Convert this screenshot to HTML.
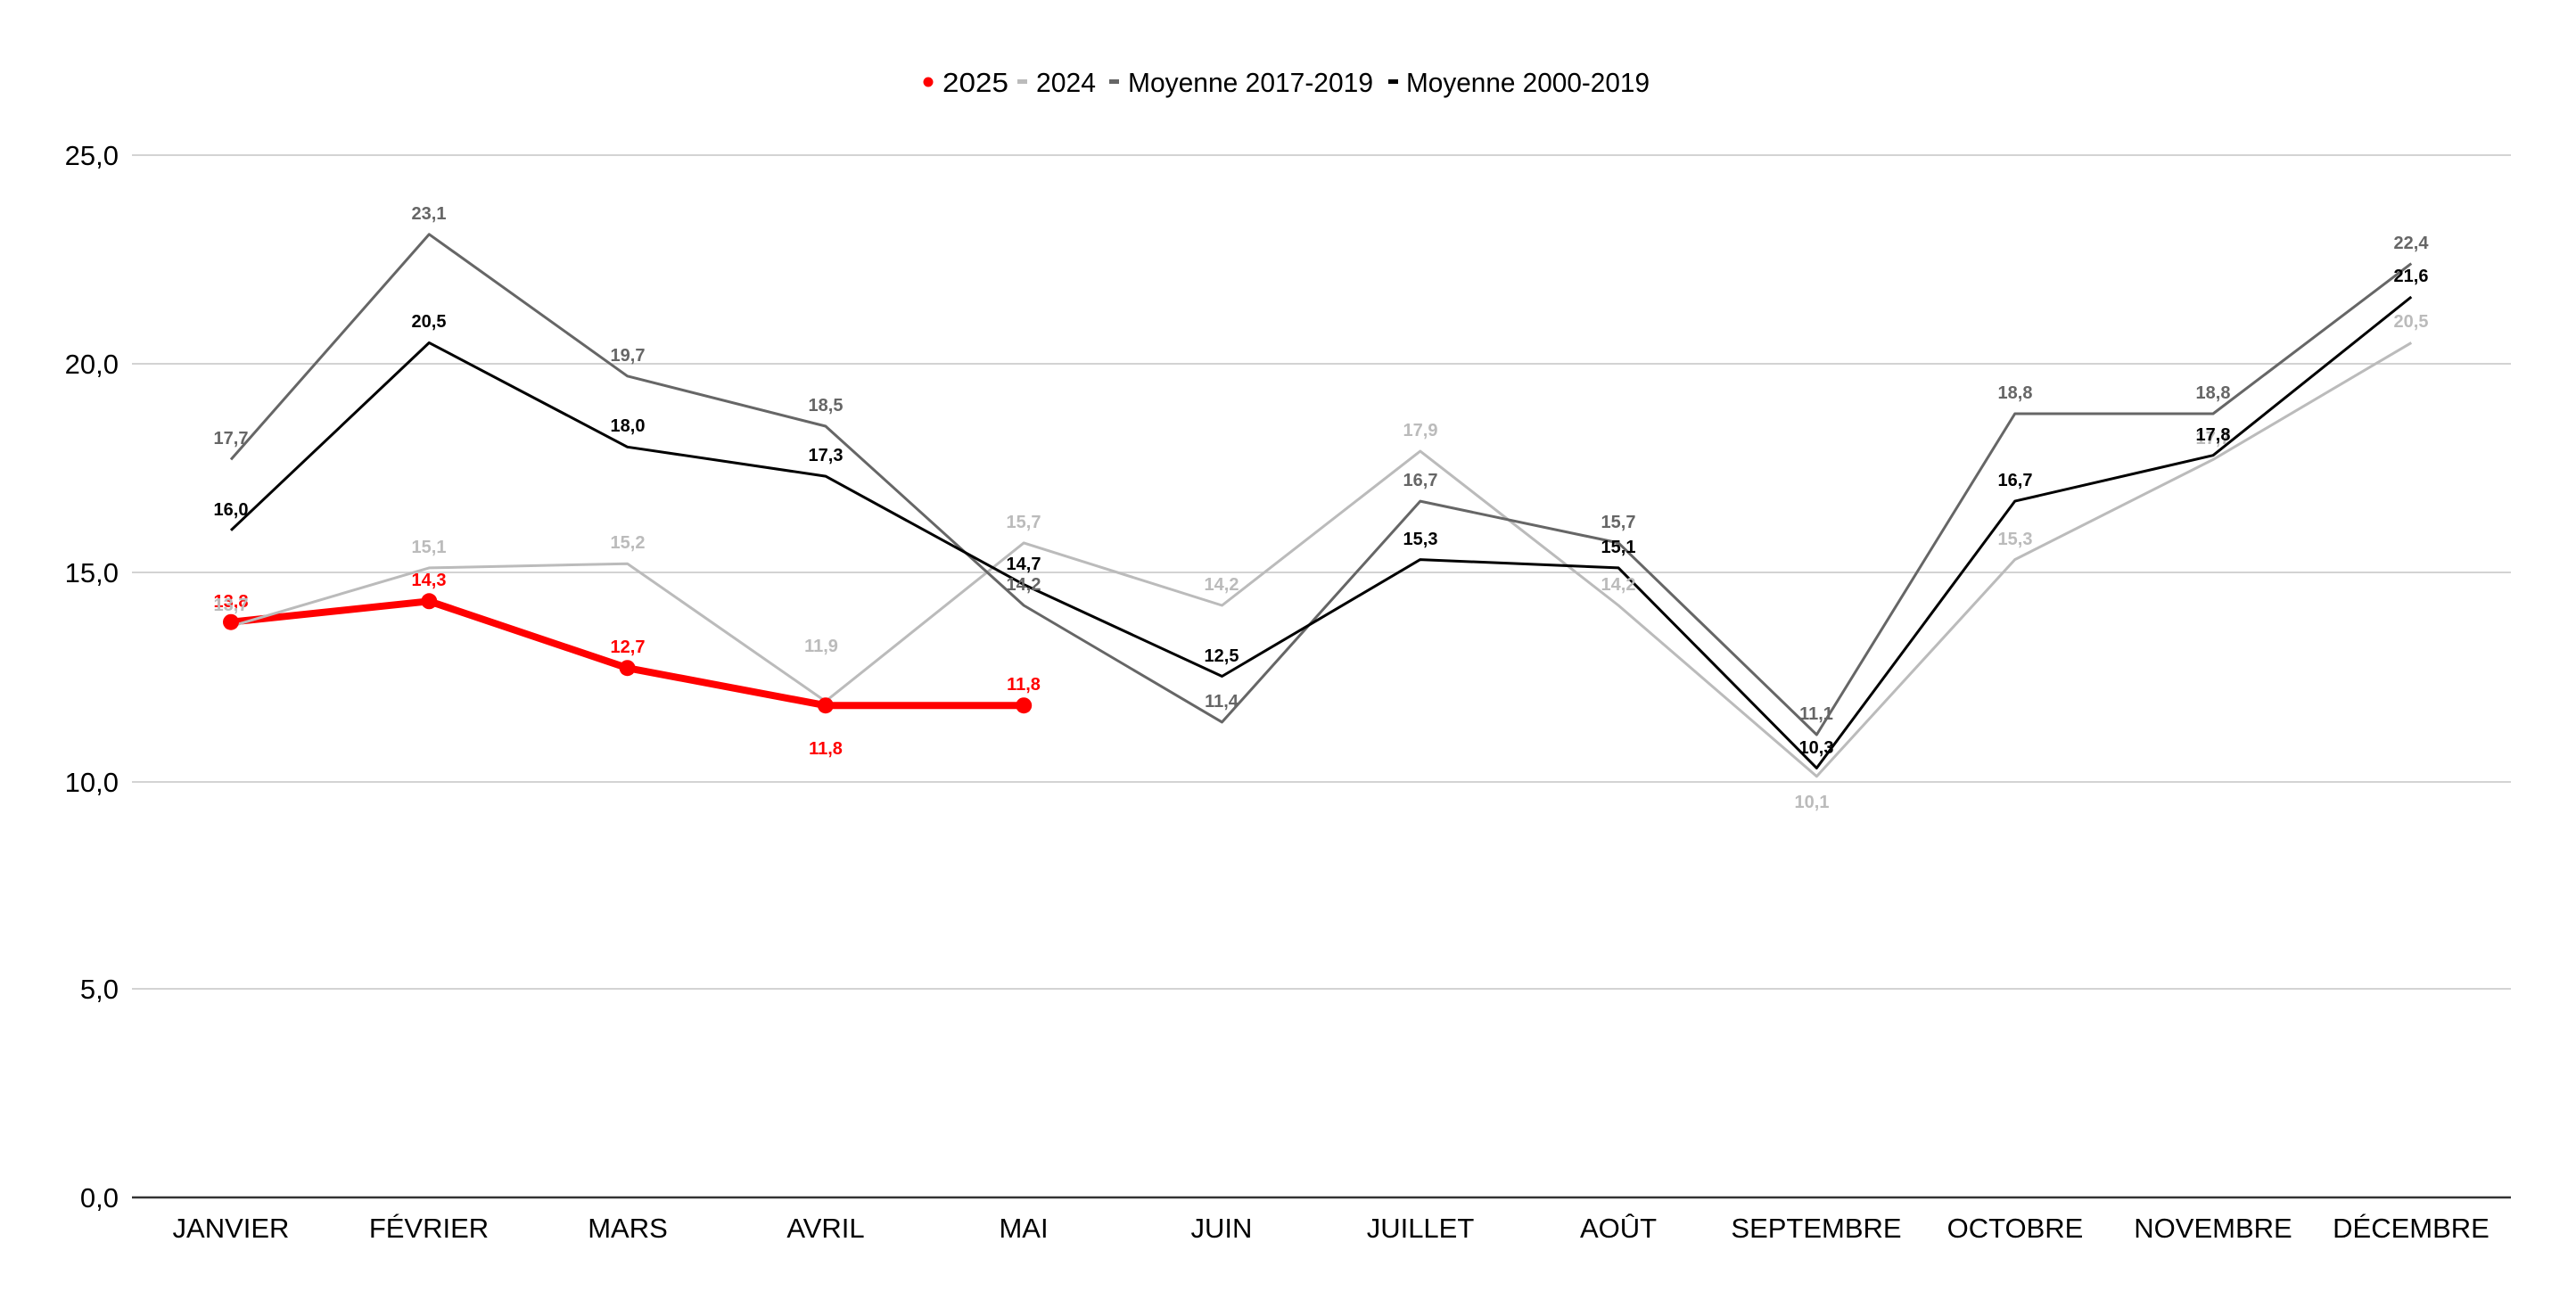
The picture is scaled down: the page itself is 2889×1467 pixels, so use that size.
<!DOCTYPE html>
<html><head><meta charset="utf-8"><style>
html,body{margin:0;padding:0;background:#fff;}
svg{display:block;}
text{font-family:"Liberation Sans",Arial,sans-serif;}
.y{font-size:31px;fill:#000;text-anchor:end;}
.x{font-size:31px;fill:#000;text-anchor:middle;}
.l{font-size:20px;font-weight:bold;text-anchor:middle;}
.lg{font-size:31px;fill:#000;}
</style></head><body>
<svg width="2889" height="1467" viewBox="0 0 2889 1467" xmlns="http://www.w3.org/2000/svg">
<rect width="2889" height="1467" fill="#fff"/>
<!-- grid -->
<g stroke="#d3d3d3" stroke-width="2">
<line x1="148" y1="174" x2="2816" y2="174"/>
<line x1="148" y1="408" x2="2816" y2="408"/>
<line x1="148" y1="642" x2="2816" y2="642"/>
<line x1="148" y1="877" x2="2816" y2="877"/>
<line x1="148" y1="1109" x2="2816" y2="1109"/>
</g>
<line x1="148" y1="1343" x2="2816" y2="1343" stroke="#333" stroke-width="2.5"/>
<!-- y labels -->
<g class="y">
<text x="133" y="185">25,0</text>
<text x="133" y="419">20,0</text>
<text x="133" y="653">15,0</text>
<text x="133" y="888">10,0</text>
<text x="133" y="1120">5,0</text>
<text x="133" y="1354">0,0</text>
</g>
<!-- x labels -->
<g class="x">
<text x="259" y="1388">JANVIER</text>
<text x="481" y="1388">FÉVRIER</text>
<text x="704" y="1388">MARS</text>
<text x="926" y="1388">AVRIL</text>
<text x="1148" y="1388">MAI</text>
<text x="1370" y="1388">JUIN</text>
<text x="1593" y="1388">JUILLET</text>
<text x="1815" y="1388">AOÛT</text>
<text x="2037" y="1388">SEPTEMBRE</text>
<text x="2260" y="1388">OCTOBRE</text>
<text x="2482" y="1388">NOVEMBRE</text>
<text x="2704" y="1388">DÉCEMBRE</text>
</g>
<!-- series -->
<g fill="none" stroke-linejoin="round">
<polyline stroke="#f00" stroke-width="8" points="259,697.7 481.3,674.3 703.6,749.2 925.9,791.2 1148.2,791.2"/>
<polyline stroke="#bbb" stroke-width="3" points="259,702.4 481.3,636.9 703.6,632.2 925.9,786.6 1148.2,608.9 1370.5,679 1592.8,506 1815.1,679 2037.4,870.7 2259.7,627.6 2482,515.4 2704.3,384.4"/>
<polyline stroke="#666" stroke-width="3" points="259,515.4 481.3,262.8 703.6,421.8 925.9,478 1148.2,679 1370.5,809.9 1592.8,562.1 1815.1,608.9 2037.4,824 2259.7,464 2482,464 2704.3,295.6"/>
<polyline stroke="#000" stroke-width="3" points="259,594.8 481.3,384.4 703.6,501.3 925.9,534.1 1148.2,655.6 1370.5,758.5 1592.8,627.6 1815.1,636.9 2037.4,861.4 2259.7,562.1 2482,510.7 2704.3,333"/>
</g>
<g fill="#f00">
<circle cx="259" cy="697.7" r="9"/><circle cx="481.3" cy="674.3" r="9"/><circle cx="703.6" cy="749.2" r="9"/><circle cx="925.9" cy="791.2" r="9"/><circle cx="1148.2" cy="791.2" r="9"/>
</g>
<!-- labels 2025 -->
<g class="l" fill="#f00">
<text x="259" y="681">13,8</text><text x="481" y="657">14,3</text><text x="704" y="732">12,7</text><text x="926" y="846">11,8</text><text x="1148" y="774">11,8</text>
</g>
<!-- labels 2024 -->
<g class="l" fill="#bbb">
<text x="259" y="685">13,7</text><text x="481" y="620">15,1</text><text x="704" y="615">15,2</text><text x="921" y="731">11,9</text><text x="1148" y="592">15,7</text><text x="1370" y="662">14,2</text><text x="1593" y="489">17,9</text><text x="1815" y="662">14,2</text><text x="2032" y="906">10,1</text><text x="2260" y="611">15,3</text><text x="2482" y="498">17,7</text><text x="2704" y="367">20,5</text>
</g>
<!-- labels M17 -->
<g class="l" fill="#666">
<text x="259" y="498">17,7</text><text x="481" y="246">23,1</text><text x="704" y="405">19,7</text><text x="926" y="461">18,5</text><text x="1148" y="662">14,2</text><text x="1370" y="793">11,4</text><text x="1593" y="545">16,7</text><text x="1815" y="592">15,7</text><text x="2037" y="807">11,1</text><text x="2260" y="447">18,8</text><text x="2482" y="447">18,8</text><text x="2704" y="279">22,4</text>
</g>
<!-- labels M00 -->
<g class="l" fill="#000">
<text x="259" y="578">16,0</text><text x="481" y="367">20,5</text><text x="704" y="484">18,0</text><text x="926" y="517">17,3</text><text x="1148" y="639">14,7</text><text x="1370" y="742">12,5</text><text x="1593" y="611">15,3</text><text x="1815" y="620">15,1</text><text x="2037" y="845">10,3</text><text x="2260" y="545">16,7</text><text x="2482" y="494">17,8</text><text x="2704" y="316">21,6</text>
</g>
<!-- legend -->
<circle cx="1041" cy="92" r="5.5" fill="#f00"/>
<text class="lg" x="1057" y="103" textLength="74" lengthAdjust="spacingAndGlyphs">2025</text>
<rect x="1141" y="89" width="11" height="5" fill="#bbb"/>
<text class="lg" x="1162" y="103" textLength="67" lengthAdjust="spacingAndGlyphs">2024</text>
<rect x="1244" y="89" width="11" height="5" fill="#666"/>
<text class="lg" x="1265" y="103" textLength="275" lengthAdjust="spacingAndGlyphs">Moyenne 2017-2019</text>
<rect x="1557" y="89" width="11" height="5" fill="#000"/>
<text class="lg" x="1577" y="103" textLength="273" lengthAdjust="spacingAndGlyphs">Moyenne 2000-2019</text>
</svg>
</body></html>
